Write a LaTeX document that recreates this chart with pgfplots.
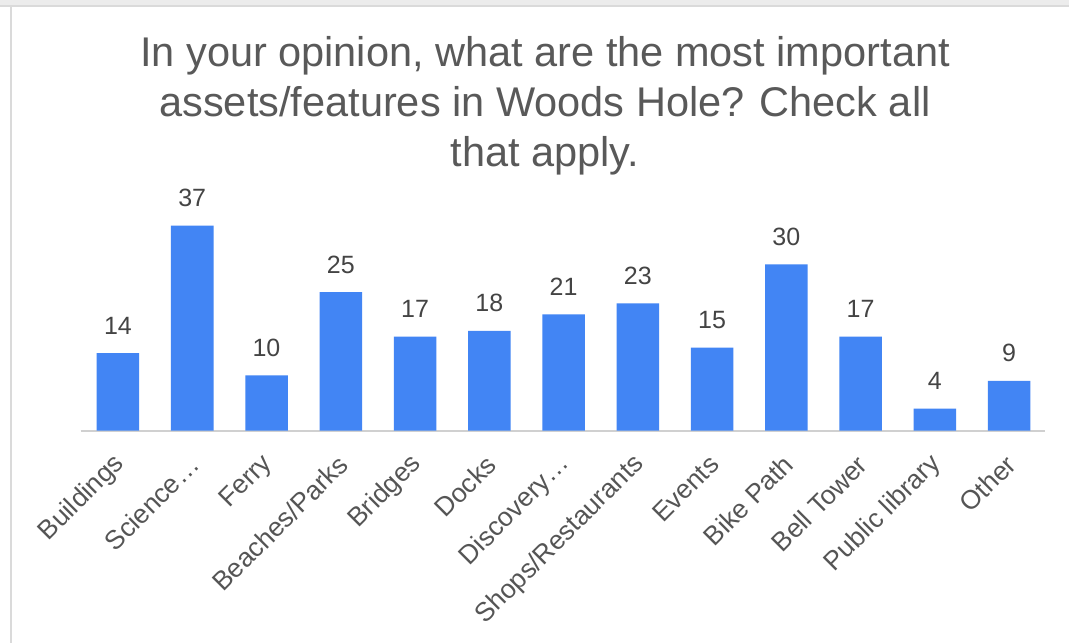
\documentclass[border=0pt]{standalone}
\usepackage{fontspec}
\setmainfont{Liberation Sans}
\usepackage{pgfplots}
\pgfplotsset{compat=1.18}
\definecolor{barblue}{HTML}{4285F4}
\definecolor{titlegray}{HTML}{595959}
\definecolor{labgray}{HTML}{555555}
\definecolor{valgray}{HTML}{444444}
\definecolor{axgray}{HTML}{D0D0D0}
\definecolor{frame}{HTML}{DADADA}
\begin{document}
\begin{tikzpicture}
\path[use as bounding box] (0,0) rectangle (1069bp,643bp);
\fill[white] (0,0) rectangle (1069bp,643bp);
\fill[frame!50] (0,637bp) rectangle (1069bp,643bp);
\draw[frame, line width=1.5bp] (0,637bp) -- (1069bp,637bp);
\draw[frame, line width=2.5bp] (11bp,0) -- (11bp,637bp);
\begin{axis}[
  at={(80.5bp,212.3bp)}, anchor=south west,
  scale only axis, width=964.9bp, height=221.6bp,
  xmin=-0.505, xmax=12.49, ymin=0, ymax=40,
  axis y line=none, axis x line*=bottom,
  x axis line style={draw=axgray, line width=2bp, -},
  xtick={0,...,12}, major tick length=0pt, ytick=\empty,
  xticklabels={Buildings, Science\ldots, Ferry, Beaches/Parks, Bridges, Docks, Discovery\ldots, Shops/Restaurants, Events, Bike Path, Bell Tower, Public library, Other},
  xticklabel style={xshift=4.5bp, yshift=-27bp, rotate=45, anchor=east, font=\fontsize{26.5bp}{26.5bp}\selectfont, text=labgray},
  ybar, bar width=42.5bp,
  /pgf/number format/assume math mode=true,
  nodes near coords,
  every node near coord/.append style={anchor=base, yshift=19bp, font=\fontsize{25bp}{25bp}\selectfont, text=valgray},
  clip=false,
]
\addplot[fill=barblue, draw=none] coordinates {
(0,14) (1,37) (2,10) (3,25) (4,17) (5,18) (6,21) (7,23) (8,15) (9,30) (10,17) (11,4) (12,9)};
\end{axis}
\begin{scope}[every node/.style={anchor=base, text=titlegray, font=\fontsize{41.5bp}{50bp}\selectfont, inner sep=0pt}]
\node at (545bp,576bp) {In your opinion, what are the most important};
\node at (545bp,526bp) {assets/features in Woods Hole? Check all};
\node at (545bp,476bp) {that apply.};
\end{scope}
\end{tikzpicture}
\end{document}
